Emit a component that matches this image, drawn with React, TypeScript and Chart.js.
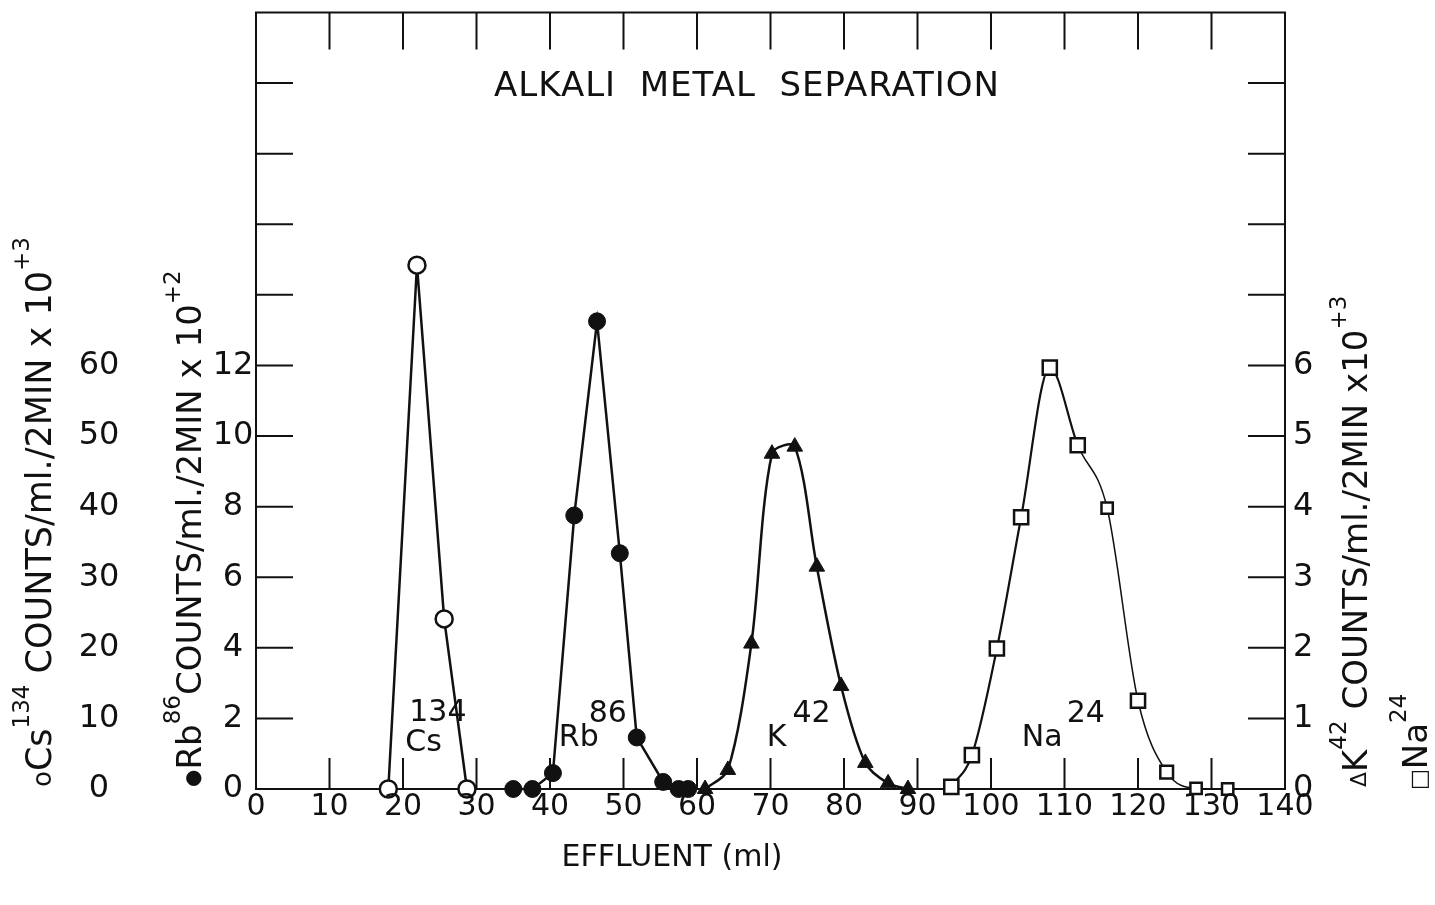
import React, { useEffect, useRef } from "react";
import { Chart, registerables } from "chart.js";

Chart.register(...registerables);

// ---- data (effluent ml, counts) ----
const csMl = [18.0, 21.9, 25.6, 28.7];
const csCounts = [0, 74.2, 24.1, 0];

const rbMl = [35.0, 37.6, 40.4, 43.3, 46.4, 49.5, 51.8, 55.4, 57.5, 58.8];
const rbCounts = [0, 0, 0.45, 7.75, 13.25, 6.68, 1.46, 0.2, 0, 0];

const kMl = [61.1, 64.2, 67.4, 70.2, 73.3, 76.3, 79.6, 82.9, 86.0, 88.7];
const kCounts = [0, 0.27, 2.06, 4.75, 4.85, 3.15, 1.46, 0.37, 0.08, 0];

const naMl = [94.6, 97.4, 100.8, 104.1, 108.0, 111.8, 115.8, 120.0, 123.9, 127.9, 132.2];
const naCounts = [0.03, 0.48, 1.99, 3.85, 5.97, 4.87, 3.98, 1.25, 0.24, 0.01, 0];

// ---- tick labels ----
const xTicks = [0, 10, 20, 30, 40, 50, 60, 70, 80, 90, 100, 110, 120, 130, 140];
const csTicks = [0, 10, 20, 30, 40, 50, 60];
const rbTicks = [0, 2, 4, 6, 8, 10, 12];
const kTicks = [0, 1, 2, 3, 4, 5, 6];
const frameXTicks = [10, 20, 30, 40, 50, 60, 70, 80, 90, 100, 110, 120, 130];
const frameRbTicks = [2, 4, 6, 8, 10, 12, 14, 16, 18, 20];
const frameKTicks = [1, 2, 3, 4, 5, 6, 7, 8, 9, 10];

const TITLE = "ALKALI  METAL  SEPARATION";
const X_TITLE = "EFFLUENT (ml)";

const FONT = '"DejaVu Sans"';
const INK = "#111";

type Run = { t: string; size: number; shift: number };

function drawRotated(ctx: CanvasRenderingContext2D, cx: number, yBottom: number, runs: Run[]) {
  ctx.save();
  ctx.translate(cx, yBottom);
  ctx.rotate(-Math.PI / 2);
  ctx.textAlign = "left";
  ctx.textBaseline = "middle";
  let x = 0;
  for (const r of runs) {
    ctx.font = `${r.size}px ${FONT}`;
    ctx.fillText(r.t, x, r.shift);
    x += ctx.measureText(r.t).width;
  }
  ctx.restore();
}

const framePlugin = {
  id: "framePlugin",
  beforeDatasetsDraw(chart: any) {
    const { ctx, chartArea: a, scales } = chart;
    ctx.save();
    ctx.strokeStyle = INK;
    ctx.lineWidth = 2;
    ctx.strokeRect(a.left, a.top, a.right - a.left, a.bottom - a.top);
    ctx.beginPath();
    for (const v of frameXTicks) {
      const px = scales.x.getPixelForValue(v);
      ctx.moveTo(px, a.top);
      ctx.lineTo(px, a.top + 37);
      ctx.moveTo(px, a.bottom);
      ctx.lineTo(px, a.bottom - 31);
    }
    for (const v of frameRbTicks) {
      const py = scales.yRb.getPixelForValue(v);
      ctx.moveTo(a.left, py);
      ctx.lineTo(a.left + 37, py);
    }
    for (const v of frameKTicks) {
      const py = scales.yK.getPixelForValue(v);
      ctx.moveTo(a.right, py);
      ctx.lineTo(a.right - 37, py);
    }
    ctx.stroke();
    ctx.restore();
  },
  afterDraw(chart: any) {
    const { ctx, chartArea: a, scales } = chart;
    ctx.save();
    ctx.fillStyle = INK;
    ctx.textBaseline = "middle";
    ctx.textAlign = "center";

    // title
    ctx.font = `34px ${FONT}`;
    (ctx as any).letterSpacing = "1px";
    ctx.fillText(TITLE, 747, 87);
    (ctx as any).letterSpacing = "0px";

    // x tick labels
    ctx.font = `30px ${FONT}`;
    for (const v of xTicks) {
      ctx.fillText(String(v), scales.x.getPixelForValue(v), a.bottom + 18);
    }
    // x title
    ctx.font = `30px ${FONT}`;
    ctx.fillText(X_TITLE, 672, 858);

    // Cs ticks
    ctx.font = `32px ${FONT}`;
    for (const v of csTicks) {
      ctx.fillText(String(v), 99, scales.yCs.getPixelForValue(v));
    }
    // Rb ticks
    for (const v of rbTicks) {
      ctx.fillText(String(v), 233, scales.yRb.getPixelForValue(v));
    }
    // K ticks
    ctx.textAlign = "left";
    for (const v of kTicks) {
      ctx.fillText(String(v), a.right + 8, scales.yK.getPixelForValue(v));
    }

    // rotated axis titles
    drawRotated(ctx, 42, a.bottom - 2, [
      { t: "o", size: 26, shift: 2 },
      { t: "Cs", size: 35, shift: 0 },
      { t: "134", size: 23, shift: -19 },
      { t: " COUNTS/ml./2MIN x 10", size: 35, shift: 0 },
      { t: "+3", size: 23, shift: -19 },
    ]);
    drawRotated(ctx, 192, a.bottom - 2, [
      { t: "●", size: 20, shift: 2 },
      { t: "Rb", size: 34, shift: 0 },
      { t: "86", size: 23, shift: -18 },
      { t: "COUNTS/ml./2MIN x 10", size: 34, shift: 0 },
      { t: "+2", size: 23, shift: -18 },
    ]);
    drawRotated(ctx, 1358, a.bottom - 2, [
      { t: "Δ", size: 22, shift: 2 },
      { t: "K", size: 34, shift: 0 },
      { t: "42", size: 23, shift: -18 },
      { t: " COUNTS/ml./2MIN x10", size: 34, shift: 0 },
      { t: "+3", size: 23, shift: -18 },
    ]);
    drawRotated(ctx, 1418, a.bottom + 1, [
      { t: "□", size: 22, shift: 2 },
      { t: "Na", size: 34, shift: 0 },
      { t: "24", size: 23, shift: -18 },
    ]);

    // peak labels
    const lab = (base: string, sup: string, x: number, y: number, supFirst: boolean, supDx: number) => {
      ctx.textAlign = "left";
      ctx.font = `30px ${FONT}`;
      if (supFirst) {
        ctx.fillText(sup, x + supDx, y - 30);
        ctx.fillText(base, x, y);
      } else {
        ctx.fillText(base, x, y);
        const w = ctx.measureText(base).width;
        ctx.fillText(sup, x + w + supDx, y - 24);
      }
    };
    lab("Cs", "134", scales.x.getPixelForValue(20.3), 743, true, 4);
    lab("Rb", "86", scales.x.getPixelForValue(41.2), 738, false, -10);
    lab("K", "42", scales.x.getPixelForValue(69.5), 738, false, 6);
    lab("Na", "24", scales.x.getPixelForValue(104.2), 738, false, 4);

    ctx.restore();
  },
};

const pts = (xs: number[], ys: number[]) => xs.map((x, i) => ({ x, y: ys[i] }));

export default function App() {
  const ref = useRef<HTMLCanvasElement | null>(null);
  useEffect(() => {
    if (!ref.current) return;
    const chart = new Chart(ref.current, {
      type: "line",
      data: {
        datasets: [
          {
            label: "Cs134",
            data: pts(csMl, csCounts),
            yAxisID: "yCs",
            borderColor: INK,
            borderWidth: 2.5,
            tension: 0,
            pointStyle: "circle",
            pointRadius: 8.5,
            pointBackgroundColor: "#fff",
            pointBorderColor: INK,
            pointBorderWidth: 2.5,
            clip: false,
          },
          {
            label: "Rb86",
            data: pts(rbMl, rbCounts),
            yAxisID: "yRb",
            borderColor: INK,
            borderWidth: 2.5,
            tension: 0,
            pointStyle: "circle",
            pointRadius: 8.5,
            pointBackgroundColor: INK,
            pointBorderColor: INK,
            pointBorderWidth: 1,
            clip: false,
          },
          {
            label: "K42",
            data: pts(kMl, kCounts),
            yAxisID: "yK",
            borderColor: INK,
            borderWidth: 2.5,
            tension: 0.3,
            pointStyle: "triangle",
            pointRadius: 9,
            pointBackgroundColor: INK,
            pointBorderColor: INK,
            pointBorderWidth: 1,
            clip: false,
          },
          {
            label: "Na24",
            data: pts(naMl, naCounts),
            yAxisID: "yK",
            borderColor: INK,
            borderWidth: 2.2,
            cubicInterpolationMode: "monotone",
            pointStyle: "rect",
            pointRadius: [10, 10, 10, 10, 10, 10, 8, 10, 9, 8, 8],
            pointBackgroundColor: "#fff",
            pointBorderColor: INK,
            pointBorderWidth: 2.5,
            segment: {
              borderWidth: (c: any) => (c.p0DataIndex >= 5 ? 1.5 : 2.2),
              borderDash: (c: any) => (c.p0DataIndex >= 9 ? [3, 4] : undefined),
            },
            clip: false,
          },
        ] as any,
      },
      options: {
        responsive: false,
        animation: false,
        devicePixelRatio: 1,
        layout: { padding: { left: 256, right: 150, top: 8, bottom: 116 } },
        plugins: { legend: { display: false }, tooltip: { enabled: false }, title: { display: false } },
        scales: {
          x: { type: "linear", min: 0, max: 140, display: false },
          yRb: { type: "linear", position: "left", min: 0, max: 22, display: false },
          yCs: { type: "linear", position: "left", min: 0, max: 110, display: false },
          yK: { type: "linear", position: "right", min: 0, max: 11, display: false },
        },
      },
      plugins: [framePlugin],
    });
    return () => chart.destroy();
  }, []);
  return (
    <div style={{ position: "fixed", left: 0, top: 0, width: 1435, height: 905, background: "#fff" }}>
      <canvas ref={ref} width={1435} height={905} style={{ display: "block", width: 1435, height: 905 }} />
    </div>
  );
}
